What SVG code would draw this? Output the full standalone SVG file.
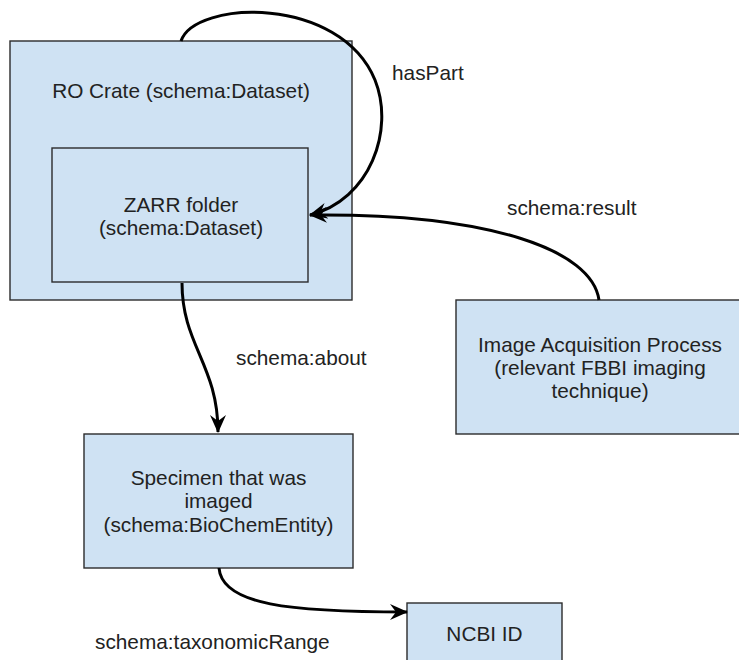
<svg xmlns="http://www.w3.org/2000/svg" width="739" height="660" viewBox="0 0 739 660">
  <style>
    .box { fill: #cfe2f3; stroke: #2b2b2b; stroke-width: 1.4; }
    .lbl { font-family: "Liberation Sans", Arial, sans-serif; font-size: 20.8px; fill: #222222; }
    .mid { text-anchor: middle; }
    .edge { fill: none; stroke: #000000; stroke-width: 3; }
  </style>
  <defs>
    <marker id="arrow" viewBox="0 0 18 16" refX="17" refY="8" markerWidth="18" markerHeight="16" markerUnits="userSpaceOnUse" orient="auto">
      <path d="M0,0 L18,8 L0,16 L6,8 Z" fill="#000000"/>
    </marker>
  </defs>
  <rect width="739" height="660" fill="#ffffff"/>

  <g id="ro-crate">
    <rect class="box" x="10" y="41" width="342" height="259"/>
    <text class="lbl mid" x="181" y="98">RO Crate (schema:Dataset)</text>
  </g>

  <g id="zarr-folder">
    <rect class="box" x="52" y="148" width="256" height="134"/>
    <text class="lbl mid" x="181" y="212">ZARR folder</text>
    <text class="lbl mid" x="181" y="235">(schema:Dataset)</text>
  </g>

  <g id="image-acquisition">
    <rect class="box" x="456" y="300" width="290" height="134"/>
    <text class="lbl mid" x="600" y="352">Image Acquisition Process</text>
    <text class="lbl mid" x="600" y="375">(relevant FBBI imaging</text>
    <text class="lbl mid" x="600" y="398">technique)</text>
  </g>

  <g id="specimen">
    <rect class="box" x="84" y="434" width="269" height="134"/>
    <text class="lbl mid" x="218.5" y="485">Specimen that was</text>
    <text class="lbl mid" x="218.5" y="508">imaged</text>
    <text class="lbl mid" x="218.5" y="532">(schema:BioChemEntity)</text>
  </g>

  <g id="ncbi-id">
    <rect class="box" x="407" y="603" width="155" height="70"/>
    <text class="lbl mid" x="484.5" y="641">NCBI ID</text>
  </g>

  <g id="connectors">
    <path class="edge" marker-end="url(#arrow)" d="M181,41 C195,0 340,-5 375,80 C395,130 370,200 310,215"/>
    <path class="edge" marker-end="url(#arrow)" d="M599,300 C592,250 490,213 310,215"/>
    <path class="edge" marker-end="url(#arrow)" d="M182,283 C182,345 218,365 218,432"/>
    <path class="edge" marker-end="url(#arrow)" d="M219,568 C222,605 290,612 407,612"/>
    <text class="lbl" x="392" y="80">hasPart</text>
    <text class="lbl" x="507" y="215">schema:result</text>
    <text class="lbl" x="236" y="365">schema:about</text>
    <text class="lbl" x="95" y="649">schema:taxonomicRange</text>
  </g>
</svg>
